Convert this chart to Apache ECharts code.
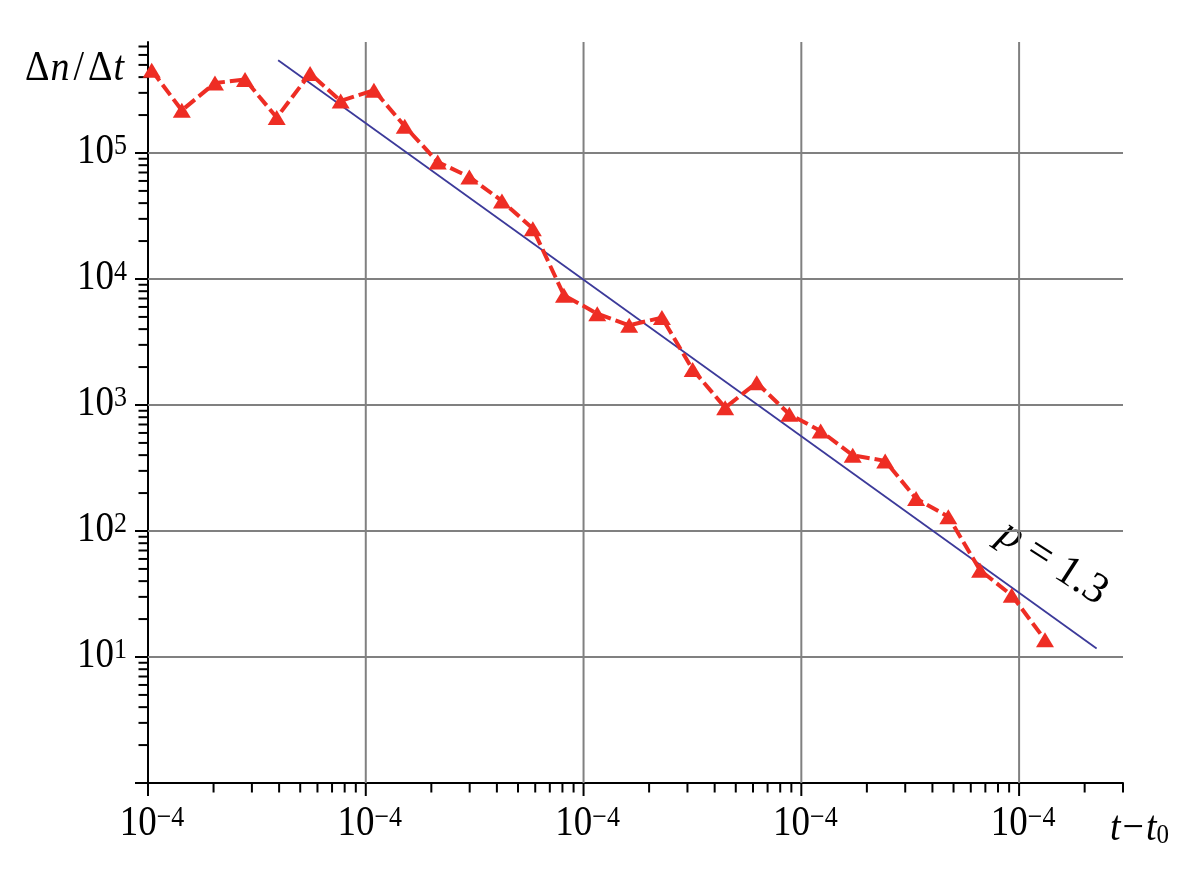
<!DOCTYPE html>
<html><head><meta charset="utf-8">
<script src="https://cdn.jsdelivr.net/npm/echarts@6/dist/echarts.min.js"></script>
<style>html,body{margin:0;padding:0;background:#fff}#c{width:1203px;height:875px}</style>
</head><body><div id="c"></div>
<script>
// axis ranges
const X_MIN = 1e-4, X_MAX = 3, Y_MIN = 1, Y_MAX = 7.6e5;

// measured series (t - t0, Δn/Δt)
const xValues = [1.04e-4, 1.43e-4, 2.03e-4, 2.79e-4, 3.90e-4, 5.55e-4, 7.67e-4, 1.09e-3, 1.51e-3, 2.14e-3,
  2.99e-3, 4.22e-3, 5.85e-3, 8.13e-3, 1.156e-2, 1.62e-2, 2.29e-2, 3.17e-2, 4.47e-2, 6.24e-2,
  8.81e-2, 0.1227, 0.1722, 0.2427, 0.3365, 0.4732, 0.662, 0.925, 1.315];
const yValues = [4.53e5, 2.18e5, 3.59e5, 3.83e5, 1.91e5, 4.27e5, 2.59e5, 3.15e5, 1.63e5, 8.49e4,
  6.46e4, 4.16e4, 2.51e4, 7430, 5310, 4290, 4940, 1910, 953, 1500,
  844, 622, 399, 360, 181, 130, 48.8, 30.9, 13.7];

// power-law fit line endpoints (p = 1.3)
const fitX = [3.96e-4, 2.27];
const fitY = [5.44e5, 11.7];

// tick structure
const xDecades = [1e-4, 1e-3, 1e-2, 1e-1, 1];
const xTickLabels = ['−4', '−4', '−4', '−4', '−4'];
const yDecades = [1, 10, 100, 1000, 1e4, 1e5];
const yTickLabels = ['', '1', '2', '3', '4', '5'];
const minorMultipliers = [2, 3, 4, 5, 6, 7, 8, 9];

const FONT = 'Liberation Serif';
const TEXT_SCALE_Y = 1.15;

const xTickData = [];
xDecades.forEach((d, i) => {
  xTickData.push([d, Y_MIN, 1, i]);
  minorMultipliers.forEach(m => { if (d * m <= X_MAX * 1.0001) xTickData.push([d * m, Y_MIN, 0, -1]); });
});
const yTickData = [];
yDecades.forEach((d, i) => {
  yTickData.push([X_MIN, d, 1, i]);
  minorMultipliers.forEach(m => { if (d * m <= Y_MAX) yTickData.push([X_MIN, d * m, 0, -1]); });
});

const labelRich = {
  a: { fontFamily: FONT, fontSize: 37, lineHeight: 37, fill: '#000' },
  b: { fontFamily: FONT, fontSize: 26, lineHeight: 26, verticalAlign: 'top', fill: '#000' }
};

const chart = echarts.init(document.getElementById('c'));
chart.setOption({
  animation: false,
  backgroundColor: '#fff',
  grid: { left: 148, right: 80, top: 42, bottom: 92 },
  xAxis: {
    type: 'log', logBase: 10, min: X_MIN, max: X_MAX,
    axisLine: { lineStyle: { color: '#000', width: 2 } },
    axisTick: { show: false }, splitLine: { show: false }, minorTick: { show: false },
    axisLabel: { show: false }
  },
  yAxis: {
    type: 'log', logBase: 10, min: Y_MIN, max: Y_MAX,
    axisLine: { lineStyle: { color: '#000', width: 2 } },
    axisTick: { show: false }, splitLine: { show: false }, minorTick: { show: false },
    axisLabel: { show: false }
  },
  series: [
    {
      type: 'custom', silent: true, clip: false, z: 1,
      data: xTickData, encode: { x: 0, y: 1 },
      renderItem: (params, api) => {
        const v = api.value(0), major = api.value(2) === 1, li = api.value(3);
        const base = api.coord([v, Y_MIN]);
        const top = api.coord([v, Y_MAX]);
        const ch = [];
        if (major && v > X_MIN * 1.001) ch.push({ type: 'line', shape: { x1: base[0], y1: top[1], x2: base[0], y2: base[1] }, style: { stroke: '#808080', lineWidth: 2 } });
        ch.push({ type: 'line', shape: { x1: base[0], y1: base[1], x2: base[0], y2: base[1] + (major ? 13 : 9.5) }, style: { stroke: '#000', lineWidth: 2 } });
        if (major && li >= 0 && xTickLabels[li]) {
          ch.push({ type: 'text', x: base[0] + 4, y: base[1] + 20, scaleY: TEXT_SCALE_Y,
            style: { text: '{a|10}{b|' + xTickLabels[li] + '}', rich: labelRich, align: 'center', verticalAlign: 'top' } });
        }
        return { type: 'group', children: ch };
      }
    },
    {
      type: 'custom', silent: true, clip: false, z: 1,
      data: yTickData, encode: { x: 0, y: 1 },
      renderItem: (params, api) => {
        const v = api.value(1), major = api.value(2) === 1, li = api.value(3);
        const base = api.coord([X_MIN, v]);
        const right = api.coord([X_MAX, v]);
        const ch = [];
        if (major && v > Y_MIN * 1.001) ch.push({ type: 'line', shape: { x1: base[0], y1: base[1], x2: right[0], y2: base[1] }, style: { stroke: '#808080', lineWidth: 2 } });
        ch.push({ type: 'line', shape: { x1: base[0] - (major ? 13 : 9.5), y1: base[1], x2: base[0], y2: base[1] }, style: { stroke: '#000', lineWidth: 2 } });
        if (major && li >= 0 && yTickLabels[li]) {
          ch.push({ type: 'text', x: base[0] - 21, y: base[1] - 22, scaleY: TEXT_SCALE_Y,
            style: { text: '{a|10}{b|' + yTickLabels[li] + '}', rich: labelRich, align: 'right', verticalAlign: 'top' } });
        }
        return { type: 'group', children: ch };
      }
    },
    {
      type: 'line', silent: true, z: 3,
      data: fitX.map((x, i) => [x, fitY[i]]),
      symbol: 'none',
      lineStyle: { color: '#3c3a9a', width: 1.8 }
    },
    {
      type: 'line', silent: true, z: 4,
      data: xValues.map((x, i) => [x, yValues[i]]),
      symbol: 'triangle', symbolSize: [18, 15],
      itemStyle: { color: '#ee2d24' },
      lineStyle: { color: '#ee2d24', width: 4, type: [13, 5] }
    }
  ],
  graphic: [
    {
      type: 'text', x: 25, y: 48, scaleY: 1.1,
      style: {
        text: '{n|Δ}{i|n}{s|/}{n|Δ}{i|t}',
        rich: {
          n: { fontFamily: FONT, fontSize: 38, fill: '#000' },
          s: { fontFamily: FONT, fontSize: 38, fill: '#000', padding: [0, 4, 0, 3] },
          i: { fontFamily: FONT, fontSize: 38, fontStyle: 'italic', fill: '#000', padding: [0, 1, 0, 1] }
        }
      }
    },
    {
      type: 'text', x: 1110, y: 808, scaleY: 1.1,
      style: {
        text: '{i|t}{n|−}{i|t}{s|0}',
        rich: {
          n: { fontFamily: FONT, fontSize: 38, lineHeight: 38, fill: '#000', padding: [0, 2, 0, 2] },
          i: { fontFamily: FONT, fontSize: 38, lineHeight: 38, fontStyle: 'italic', fill: '#000' },
          s: { fontFamily: FONT, fontSize: 25, lineHeight: 14, verticalAlign: 'bottom', fill: '#000' }
        }
      }
    },
    {
      type: 'text', x: 1053, y: 563, rotation: -33 * Math.PI / 180,
      style: {
        text: '{i|p}{n| = 1.3}', align: 'center', verticalAlign: 'middle',
        rich: {
          n: { fontFamily: FONT, fontSize: 43, fill: '#000' },
          i: { fontFamily: FONT, fontSize: 43, fontStyle: 'italic', fill: '#000' }
        }
      }
    }
  ]
});
</script></body></html>
